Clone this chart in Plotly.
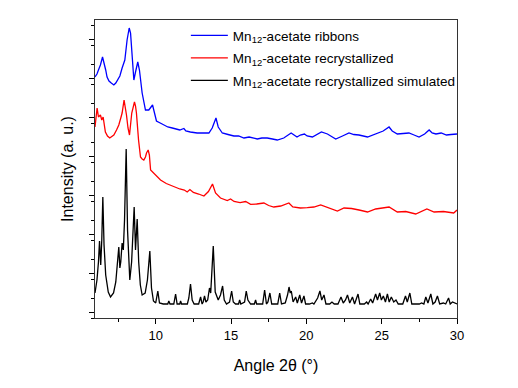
import plotly.graph_objects as go

# Mn12-acetate ribbons (blue)
ribbons_x = [5.97, 6.1, 6.2, 6.33, 6.47, 6.57, 6.68, 6.77, 6.9, 7.05, 7.22, 7.35, 7.48, 7.62, 7.77, 7.95,
             8.1, 8.24, 8.33, 8.44, 8.55, 8.66, 8.81, 8.92, 9.1, 9.32, 9.54, 9.79, 9.92, 10.05, 10.3,
             10.54, 10.8, 11.1, 11.43, 11.6, 11.87, 12.0, 12.3, 12.75, 13.1, 13.53, 13.75, 14.0, 14.15,
             14.42, 14.8, 15.19, 15.5, 15.86, 16.2, 16.74, 17.05, 17.4, 17.75, 18.07, 18.5, 18.99, 19.38,
             19.6, 19.87, 20.05, 20.4, 21.0, 21.4, 21.95, 22.4, 22.83, 23.15, 23.49, 24.06, 24.72, 25.1,
             25.49, 25.7, 26.04, 26.4, 26.81, 27.15, 27.48, 27.85, 28.15, 28.35, 28.6, 28.95, 29.3, 29.6,
             30.0]
ribbons_y = [241, 244, 248, 253, 261, 256, 248, 241, 237, 235, 233, 235, 238, 242, 250, 258,
             278, 290, 285, 261, 238, 246, 256, 248, 225, 208, 208, 213, 206, 197, 195,
             193, 191, 190, 189, 188, 189.5, 187, 186, 185, 185, 185, 190, 200, 191,
             185, 183.5, 182, 182, 180, 181, 179, 180, 180, 179, 178, 180, 185, 181,
             183, 184, 182, 181, 186, 184, 179, 182, 185, 183.5, 183, 181, 185, 187,
             191, 187, 184, 184.5, 185, 183, 181, 184, 188, 185, 184, 185, 183, 183.5,
             184]

# Mn12-acetate recrystallized (red)
recryst_x = [5.97, 6.05, 6.11, 6.2, 6.33, 6.42, 6.51, 6.66, 6.8, 6.95, 7.1, 7.22, 7.4, 7.55, 7.7, 7.77,
             7.9, 7.98, 8.06, 8.16, 8.26, 8.41, 8.52, 8.59, 8.66, 8.72, 8.86, 8.99, 9.1, 9.21, 9.32,
             9.39, 9.5, 9.58, 9.66, 9.8, 10.32, 10.7, 11.2, 11.6, 11.9, 12.09, 12.27, 12.5, 12.85, 13.2,
             13.5, 13.77, 13.97, 14.3, 14.75, 14.97, 15.2, 15.6, 15.97, 16.3, 16.7, 17.18, 17.5, 17.84,
             18.3, 18.84, 19.1, 19.6, 20.06, 20.5, 20.95, 21.45, 22.06, 22.5, 23.0, 23.5, 24.06, 24.6,
             24.95, 25.49, 26.04, 26.6, 27.26, 28.0, 28.48, 29.1, 29.78, 30.0]
recryst_y = [191, 200, 210, 201, 203, 198, 201, 186, 182, 180, 182, 183, 188, 193, 201, 205,
             218, 212, 203, 190, 183, 205, 214, 216, 212, 205, 178, 161, 159, 158, 161,
             165, 168, 163, 148, 146, 138, 134.5, 131, 129, 128, 126, 128.5, 125.5, 124, 122,
             126.5, 134, 125, 120, 117.5, 119, 116.5, 115.3, 116.5, 113.7, 114, 115, 112.5, 111,
             112, 115, 111, 110, 110.3, 111, 113, 110, 107, 110, 109.5, 108, 106, 109,
             109.5, 111, 106, 106.5, 104, 109, 106, 106.5, 105, 108]

# Mn12-acetate recrystallized simulated (black)
sim_x = [5.97, 6.1, 6.2, 6.27, 6.35, 6.42, 6.49, 6.57, 6.68, 6.85, 7.0, 7.2, 7.35, 7.47, 7.55, 7.62,
         7.68, 7.77, 7.85, 7.93, 8.04, 8.13, 8.22, 8.28, 8.4, 8.5, 8.57, 8.66, 8.77, 8.87, 8.98,
         9.1, 9.3, 9.45, 9.61, 9.72, 9.85, 10.0, 10.14, 10.25, 10.5, 10.8, 10.87, 10.95, 11.2, 11.32,
         11.42, 11.6, 11.65, 11.72, 12.1, 12.2, 12.31, 12.42, 12.55, 12.85, 12.98, 13.08, 13.15, 13.24,
         13.33, 13.45, 13.57, 13.65, 13.82, 13.95, 14.05, 14.15, 14.3, 14.44, 14.55, 14.7, 14.9, 15.04,
         15.15, 15.3, 15.5, 15.57, 15.65, 15.9, 16.01, 16.12, 16.3, 16.55, 16.63, 16.7, 17.1, 17.23,
         17.35, 17.45, 17.58, 17.7, 18.1, 18.23, 18.35, 18.6, 18.75, 18.85, 18.93, 19.0, 19.12, 19.2,
         19.29, 19.4, 19.56, 19.68, 19.84, 19.95, 20.2, 20.4, 20.5, 20.75, 20.9, 21.02, 21.17, 21.3,
         21.55, 21.7, 21.85, 22.1, 22.3, 22.45, 22.6, 22.73, 22.88, 23.06, 23.2, 23.43, 23.55, 23.85,
         24.0, 24.1, 24.27, 24.4, 24.6, 24.72, 24.87, 24.98, 25.11, 25.25, 25.38, 25.5, 25.64, 25.8,
         25.95, 26.1, 26.4, 26.58, 26.7, 26.87, 27.0, 27.5, 27.65, 27.8, 27.93, 28.07, 28.26, 28.4,
         28.55, 28.7, 28.85, 29.1, 29.25, 29.44, 29.55, 29.7, 29.85, 30.0]
sim_y = [25, 38, 56, 77, 53, 78, 121, 73, 43, 26, 21, 25, 36, 56, 71, 50,
         56, 75, 68, 98, 169, 88, 46, 38, 56, 88, 111, 68, 99, 56, 33,
         23, 25, 38, 67, 30, 17, 15, 27, 15, 14, 14, 17, 14, 14, 24,
         14, 14, 17, 14, 14, 20, 34, 18, 14, 14, 21, 14, 16, 22,
         16, 18, 30, 25, 72, 26, 22, 18, 23, 32, 18, 14, 16, 27,
         16, 14, 14, 18, 14, 16, 27, 18, 14, 14, 18, 14, 14, 28,
         14, 16, 25, 14, 14, 25, 14, 15, 23, 31, 25, 27, 16, 18,
         21, 15, 23, 15, 22, 14, 14, 15, 14, 20, 27, 18, 23, 14,
         14, 16, 14, 14, 21, 15, 18, 23, 15, 21, 14, 24, 14, 14,
         16, 14, 19, 15, 24, 18, 25, 18, 22, 16, 24, 16, 21, 16,
         18, 14, 14, 22, 16, 25, 14, 14, 15, 14, 21, 15, 24, 14,
         16, 22, 14, 15, 14, 20, 14, 16, 15, 14]

series = [
    ("Mn<sub>12</sub>-acetate ribbons", ribbons_x, ribbons_y, "#0000ff"),
    ("Mn<sub>12</sub>-acetate recrystallized", recryst_x, recryst_y, "#ff0000"),
    ("Mn<sub>12</sub>-acetate recrystallized simulated", sim_x, sim_y, "#000000"),
]

fig = go.Figure()
for i, (name, xs, ys, color) in enumerate(series):
    fig.add_trace(go.Scatter(x=xs, y=ys, mode="lines", name=name, legendgroup=f"g{i}",
                             line=dict(color=color, width=1.3)))

font_family = "Arial, Liberation Sans, sans-serif"

# page body has an 8px margin, so the figure is a bit smaller than the window
fig.update_layout(
    width=510, height=380,
    template="plotly_white",
    plot_bgcolor="white", paper_bgcolor="white",
    margin=dict(l=87, r=61, t=12, b=70),
    font=dict(family=font_family, size=13, color="black"),
    showlegend=True,
    legend=dict(x=0.251, y=1.0, xanchor="left", yanchor="top", itemwidth=37,
                bgcolor="rgba(0,0,0,0)", font=dict(size=13.5), tracegroupgap=2),
)

fig.update_xaxes(
    range=[5.97, 30], title_text="Angle 2θ (°)", title_standoff=18, automargin=False,
    tick0=0, dtick=5, ticks="outside", ticklen=5, tickcolor="black",
    minor=dict(ticks="outside", ticklen=3, dtick=2.5, tickcolor="black"),
    showline=True, linecolor="#333333", linewidth=1, mirror=True,
    showgrid=False, zeroline=False,
)
fig.update_yaxes(
    range=[0, 298], title_text="Intensity (a. u.)", title_standoff=11, automargin=False,
    tick0=6, dtick=39, ticks="outside", ticklen=5, tickcolor="black",
    minor=dict(ticks="outside", ticklen=3, dtick=19.5, tickcolor="black"),
    showticklabels=False,
    showline=True, linecolor="#333333", linewidth=1, mirror=True,
    showgrid=False, zeroline=False,
)

fig.write_html("out.html")
